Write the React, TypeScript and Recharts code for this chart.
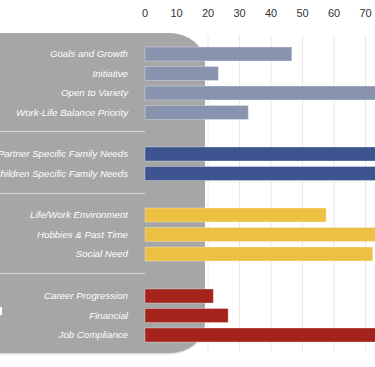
import React from 'react';
import { BarChart, Bar, XAxis, YAxis, CartesianGrid } from 'recharts';

const growthCategories = ['Goals and Growth', 'Initiative', 'Open to Variety', 'Work-Life Balance Priority'];
const growthValues = [46.6, 23.3, 82, 32.8];
const familyCategories = ['Partner Specific Family Needs', 'Children Specific Family Needs'];
const familyValues = [90, 88];
const lifestyleCategories = ['Life/Work Environment', 'Hobbies & Past Time', 'Social Need'];
const lifestyleValues = [57.5, 78, 72.3];
const careerCategories = ['Career Progression', 'Financial', 'Job Compliance'];
const careerValues = [21.7, 26.4, 95];
const xTicks = [0, 10, 20, 30, 40, 50, 60, 70];

const toRows = (cats: string[], vals: number[]) => cats.map((name, i) => ({ name, value: vals[i] }));

const groups = [
  { rows: toRows(growthCategories, growthValues), color: '#8894ae', top: 43.5 },
  { rows: toRows(familyCategories, familyValues), color: '#3d5490', top: 143.5 },
  { rows: toRows(lifestyleCategories, lifestyleValues), color: '#ecc143', top: 204.5 },
  { rows: toRows(careerCategories, careerValues), color: '#a4241b', top: 285.5 },
];

const allRows = groups.flatMap((g) => g.rows);

const FONT = '"Liberation Sans", Arial, sans-serif';
const CHART_W = 470;
const ROW_H = 19.5;

const LabelTick = (props: any) => {
  const { x, y, payload } = props;
  return (
    <text x={x} y={y} dy="0.35em" textAnchor="end" fill="#ffffff" fontStyle="italic" fontSize={9.7} fontFamily={FONT}>
      {payload.value}
    </text>
  );
};

export default function App() {
  return (
    <div style={{ position: 'fixed', left: 0, top: 0, width: 375, height: 367, overflow: 'hidden', background: '#fff', fontFamily: FONT }}>
      {/* grid + top axis */}
      <div style={{ position: 'absolute', left: 0, top: 0 }}>
        <BarChart layout="vertical" width={CHART_W} height={351} data={allRows} margin={{ top: 5, right: 10, bottom: 0, left: 0 }}>
          <CartesianGrid horizontal={false} stroke="#e8e8e8" />
          <XAxis
            type="number"
            orientation="top"
            domain={[0, 100]}
            ticks={xTicks}
            height={30}
            axisLine={false}
            tickLine={false}
            tickSize={0}
            tickMargin={18}
            interval={0}
            tick={{ fill: '#333333', fontSize: 11, fontFamily: FONT }}
          />
          <YAxis type="category" dataKey="name" width={145} axisLine={false} tickLine={false} tick={false} />
          <Bar dataKey="value" fill="transparent" stroke="none" isAnimationActive={false} />
        </BarChart>
      </div>
      {/* gray panel */}
      <svg width={375} height={367} style={{ position: 'absolute', left: 0, top: 0 }}>
        <rect x={-40} y={34} width={245} height={320.5} rx={36} ry={30} fill="#dedede" />
        <rect x={-40} y={33} width={245} height={320} rx={36} ry={30} fill="#a6a6a6" />
        <line x1={0} x2={145} y1={131.5} y2={131.5} stroke="#d6d6d6" strokeWidth={1} />
        <line x1={0} x2={145} y1={193.5} y2={193.5} stroke="#d6d6d6" strokeWidth={1} />
        <line x1={0} x2={145} y1={273.5} y2={273.5} stroke="#d6d6d6" strokeWidth={1} />
        <rect x={0} y={307} width={2} height={8} fill="#ffffff" />
      </svg>
      {/* bars */}
      {groups.map((g, gi) => (
        <div key={gi} style={{ position: 'absolute', left: 0, top: g.top }}>
          <BarChart layout="vertical" width={CHART_W} height={g.rows.length * ROW_H} data={g.rows} margin={{ top: 0, right: 10, bottom: 0, left: 0 }}>
            <XAxis type="number" domain={[0, 100]} hide />
            <YAxis
              type="category"
              dataKey="name"
              width={145}
              axisLine={false}
              tickLine={false}
              tickSize={0}
              tickMargin={17}
              interval={0}
              tick={<LabelTick />}
            />
            <Bar dataKey="value" fill={g.color} barSize={14} stroke="#ffffff" strokeOpacity={0.3} strokeWidth={1} isAnimationActive={false} />
          </BarChart>
        </div>
      ))}
    </div>
  );
}
